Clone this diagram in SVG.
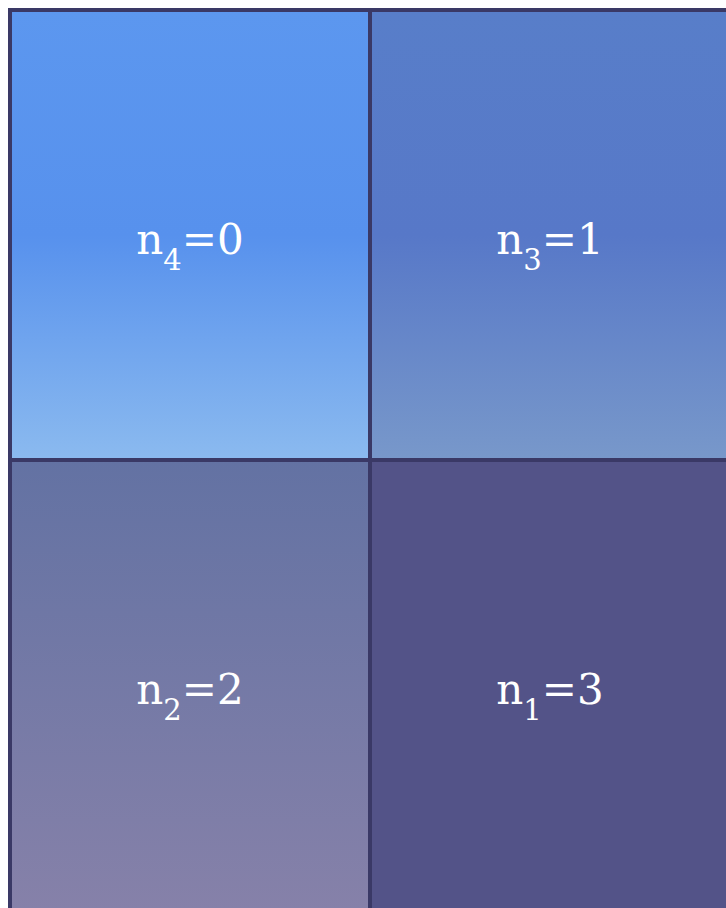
<svg xmlns="http://www.w3.org/2000/svg" width="726" height="908" viewBox="0 0 726 908">
<style>
.lbl{font-family:"DejaVu Serif","Liberation Serif",serif;font-size:42px;fill:#ffffff;text-anchor:middle}
.sub{font-size:29px}
.grid{fill:none;stroke:#3a3966;stroke-width:4}
</style>
<defs>
<linearGradient id="g1" x1="0" y1="0" x2="0" y2="1">
<stop offset="0" stop-color="#5c97ef"/>
<stop offset="0.5" stop-color="#5791ed"/>
<stop offset="1" stop-color="#8bbaef"/>
</linearGradient>
<linearGradient id="g2" x1="0" y1="0" x2="0" y2="1">
<stop offset="0" stop-color="#587ec9"/>
<stop offset="0.5" stop-color="#5778c8"/>
<stop offset="1" stop-color="#7898ca"/>
</linearGradient>
<linearGradient id="g3" x1="0" y1="0" x2="0" y2="1">
<stop offset="0" stop-color="#6372a3"/>
<stop offset="1" stop-color="#8681a9"/>
</linearGradient>
</defs>
<g id="n4">
<rect x="10" y="10" width="360" height="450" fill="url(#g1)"/>
<text class="lbl" x="190" y="254">n<tspan class="sub" dy="16">4</tspan><tspan dy="-16">=0</tspan></text>
</g>
<g id="n3">
<rect x="370" y="10" width="360" height="450" fill="url(#g2)"/>
<text class="lbl" x="550" y="254">n<tspan class="sub" dy="16">3</tspan><tspan dy="-16">=1</tspan></text>
</g>
<g id="n2">
<rect x="10" y="460" width="360" height="450" fill="url(#g3)"/>
<text class="lbl" x="190" y="704">n<tspan class="sub" dy="16">2</tspan><tspan dy="-16">=2</tspan></text>
</g>
<g id="n1">
<rect x="370" y="460" width="360" height="450" fill="#535388"/>
<text class="lbl" x="550" y="704">n<tspan class="sub" dy="16">1</tspan><tspan dy="-16">=3</tspan></text>
</g>
<g id="connectors">
<rect class="grid" x="10" y="10" width="740" height="920"/>
<line class="grid" x1="370" y1="10" x2="370" y2="908"/>
<line class="grid" x1="10" y1="460" x2="726" y2="460"/>
</g>
</svg>
